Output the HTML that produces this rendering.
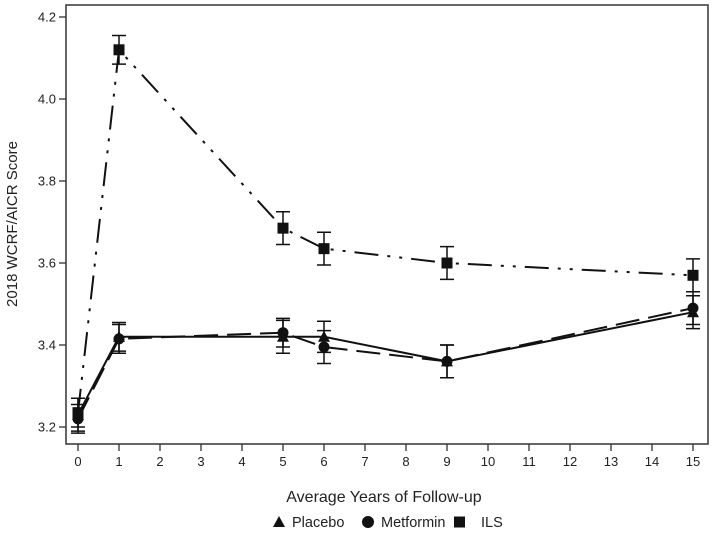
<!DOCTYPE html>
<html><head><meta charset="utf-8"><style>
body{margin:0;background:#fff}
text{font-family:"Liberation Sans",sans-serif;fill:#222}
</style></head><body>
<svg id="c" width="712" height="530" xmlns="http://www.w3.org/2000/svg"></svg>
<script>
const years=[0,1,5,6,9,15];
const placebo=[3.23,3.42,3.42,3.42,3.36,3.48];
const placeboErr=[0.04,0.035,0.04,0.038,0.04,0.04];
const metformin=[3.22,3.415,3.43,3.395,3.36,3.49];
const metforminErr=[0.035,0.035,0.035,0.04,0.04,0.04];
const ils=[3.235,4.12,3.685,3.635,3.60,3.57];
const ilsErr=[0.035,0.035,0.04,0.04,0.04,0.04];
const xTicks=[0,1,2,3,4,5,6,7,8,9,10,11,12,13,14,15];
const yTicks=[3.2,3.4,3.6,3.8,4.0,4.2];
const NS="http://www.w3.org/2000/svg",svg=document.getElementById('c');
const L=66,R=708,T=5,B=444;
const x=v=>78+v*41, y=v=>427-(v-3.2)*410;
function mk(t,a,p){const e=document.createElementNS(NS,t);for(const k in a)e.setAttribute(k,a[k]);(p||svg).appendChild(e);return e;}
const frame=mk('rect',{x:L,y:T,width:R-L,height:B-T,fill:'none',stroke:'#333','stroke-width':1.5});


xTicks.forEach(v=>{
 const g=mk('g',{});
 
 
 mk('line',{x1:x(v),x2:x(v),y1:B,y2:B+7,stroke:'#333','stroke-width':1.3},g);
 const t=mk('text',{x:x(v),y:B+22,'text-anchor':'middle','font-size':13},g);t.textContent=v;
});
yTicks.forEach(v=>{
 const g=mk('g',{});
 
 
 mk('line',{x1:L-7,x2:L,y1:y(v),y2:y(v),stroke:'#333','stroke-width':1.3},g);
 const t=mk('text',{x:L-10,y:y(v)+4.5,'text-anchor':'end','font-size':13},g);t.textContent=v.toFixed(1);
});
const xt=mk('text',{x:384,y:502,'text-anchor':'middle','font-size':16});xt.textContent='Average Years of Follow-up';


const yt=mk('text',{x:0,y:0,'text-anchor':'middle','font-size':15,transform:'translate(17,224) rotate(-90)'});yt.textContent='2018 WCRF/AICR Score';


function series(name,vals,errs,dash,marker){
 const g=mk('g',{});
 
 
 mk('polyline',{points:years.map((v,i)=>x(v)+','+y(vals[i])).join(' '),fill:'none',stroke:'#111','stroke-width':2,'stroke-dasharray':dash},g);
 years.forEach((v,i)=>{
  const cx=x(v),cy=y(vals[i]),hi=y(vals[i]+errs[i]),lo=y(vals[i]-errs[i]);
  mk('path',{d:`M${cx},${hi}V${lo}M${cx-7},${hi}H${cx+7}M${cx-7},${lo}H${cx+7}`,stroke:'#111','stroke-width':1.5,fill:'none'},g);
  let m;
  if(marker==='tri')m=mk('path',{d:`M${cx},${cy-6}L${cx+6},${cy+5}L${cx-6},${cy+5}Z`,fill:'#111'},g);
  else if(marker==='circ')m=mk('circle',{cx,cy,r:5.5,fill:'#111'},g);
  else m=mk('rect',{x:cx-5.5,y:cy-5.5,width:11,height:11,fill:'#111'},g);
  
  
 });
}
series('placebo',placebo,placeboErr,'','tri');
series('metformin',metformin,metforminErr,'24 9','circ');
series('ils',ils,ilsErr,'24 9 3 9 3 9','sq');
const lg=mk('g',{});


mk('path',{d:'M279,516L285,527L273,527Z',fill:'#111'},lg);
let t=mk('text',{x:292,y:527,'font-size':14.5},lg);t.textContent='Placebo';
mk('circle',{cx:368,cy:522,r:6,fill:'#111'},lg);
t=mk('text',{x:381,y:527,'font-size':14.5},lg);t.textContent='Metformin';
mk('rect',{x:454,y:516.5,width:11,height:11,fill:'#111'},lg);
t=mk('text',{x:481,y:527,'font-size':14.5},lg);t.textContent='ILS';
</script>
</body></html>
